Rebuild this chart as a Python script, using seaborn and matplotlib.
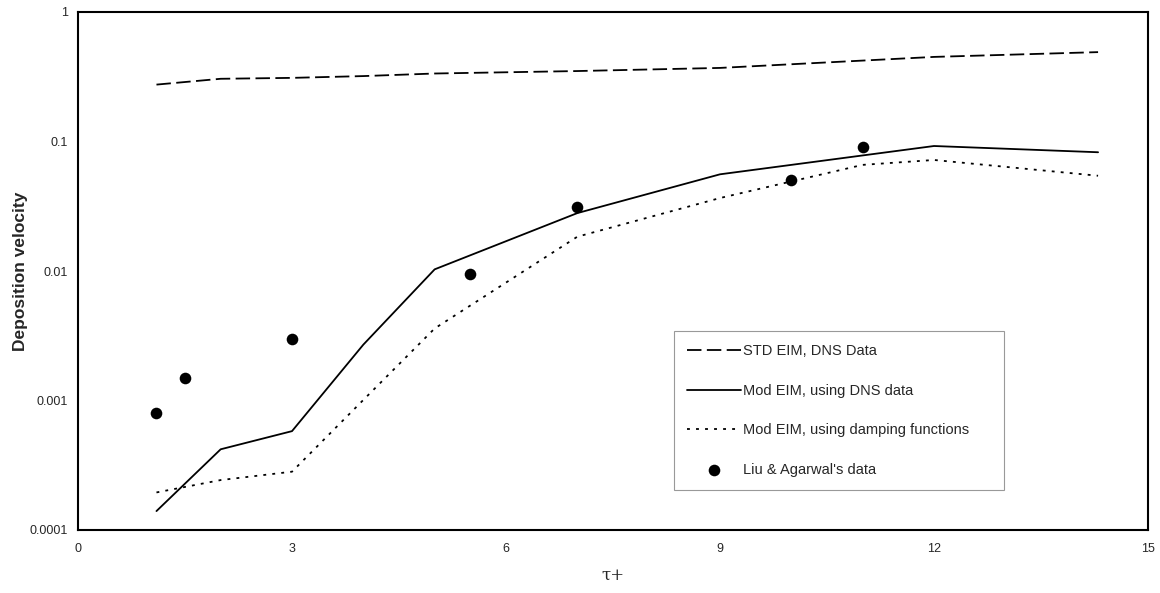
import matplotlib
matplotlib.use("Agg")
import matplotlib.pyplot as plt
import seaborn as sns
import pandas as pd
from matplotlib.ticker import FixedLocator, FixedFormatter, NullLocator

# Data
std_x = [1.1, 2, 3, 4, 5, 7, 9, 12, 14.3]
std_y = [0.275, 0.305, 0.31, 0.32, 0.335, 0.35, 0.37, 0.45, 0.49]

mod_dns_x = [1.1, 2, 3, 4, 5, 7, 9, 12, 14.3]
mod_dns_y = [0.00014, 0.00042, 0.00058, 0.0027, 0.0103, 0.028, 0.0558, 0.0923, 0.0826]

mod_damp_x = [1.1, 2, 3, 4, 5, 7, 9, 11, 12, 14.3]
mod_damp_y = [0.000195, 0.000243, 0.000282, 0.00101, 0.0036, 0.0184, 0.0366, 0.066, 0.072, 0.0544]

liu_x = [1.1, 1.5, 3, 5.5, 7, 10, 11]
liu_y = [0.0008, 0.0015, 0.003, 0.0095, 0.031, 0.05, 0.09]

x_ticks = [0, 3, 6, 9, 12, 15]
y_ticks = [0.0001, 0.001, 0.01, 0.1, 1]
y_tick_labels = ["0.0001", "0.001", "0.01", "0.1", "1"]

labels = ["STD EIM, DNS Data", "Mod EIM, using DNS data",
          "Mod EIM, using damping functions", "Liu & Agarwal's data"]

sns.set_style("white")
plt.rcParams['font.family'] = ['Liberation Sans', 'DejaVu Sans']

fig = plt.figure(figsize=(11.6, 5.93), dpi=100)
ax = fig.add_axes([78 / 1160, 1 - 530 / 593, (1148 - 78) / 1160, (530 - 12) / 593])

df_std = pd.DataFrame({"x": std_x, "y": std_y})
df_dns = pd.DataFrame({"x": mod_dns_x, "y": mod_dns_y})
df_damp = pd.DataFrame({"x": mod_damp_x, "y": mod_damp_y})
df_liu = pd.DataFrame({"x": liu_x, "y": liu_y})

sns.lineplot(data=df_std, x="x", y="y", ax=ax, color="black", lw=1.3,
             label=labels[0], sort=False)
ax.lines[-1].set_dashes([8, 3])
sns.lineplot(data=df_dns, x="x", y="y", ax=ax, color="black", lw=1.3,
             label=labels[1], sort=False)
sns.lineplot(data=df_damp, x="x", y="y", ax=ax, color="black", lw=1.3,
             label=labels[2], sort=False)
ax.lines[-1].set_dashes([1.6, 3.4])
sns.scatterplot(data=df_liu, x="x", y="y", ax=ax, color="black", s=70,
                edgecolor="black", linewidth=0, label=labels[3], zorder=5)

ax.set_yscale("log")
ax.set_xlim(0, 15)
ax.set_ylim(0.0001, 1)
ax.xaxis.set_major_locator(FixedLocator(x_ticks))
ax.set_xticklabels([str(t) for t in x_ticks], fontsize=9)
ax.yaxis.set_major_locator(FixedLocator(y_ticks))
ax.yaxis.set_major_formatter(FixedFormatter(y_tick_labels))
ax.yaxis.set_minor_locator(NullLocator())
ax.tick_params(axis="y", labelsize=9, direction="out", length=5, width=0.8, color="black", pad=2)
ax.tick_params(axis="x", labelsize=9, direction="inout", length=7, width=0.8, color="gray", pad=6)

for s in ax.spines.values():
    s.set_color("black")
    s.set_linewidth(1.5)

ax.set_ylabel("Deposition velocity", fontsize=12.5, fontweight="bold", labelpad=1.5)
ax.set_xlabel("τ+", fontsize=12, family=["DejaVu Serif"], labelpad=8)

leg = ax.legend(loc="lower left", bbox_to_anchor=(0.557, 0.077, 0.308, 0.3),
                mode="expand", frameon=True, fancybox=False, fontsize=10.5,
                labelspacing=1.75, handlelength=3.7, handletextpad=0.1,
                borderpad=0.9, borderaxespad=0)
leg.get_frame().set_edgecolor("gray")
leg.get_frame().set_linewidth(0.8)

fig.savefig("out.png", dpi=100)
